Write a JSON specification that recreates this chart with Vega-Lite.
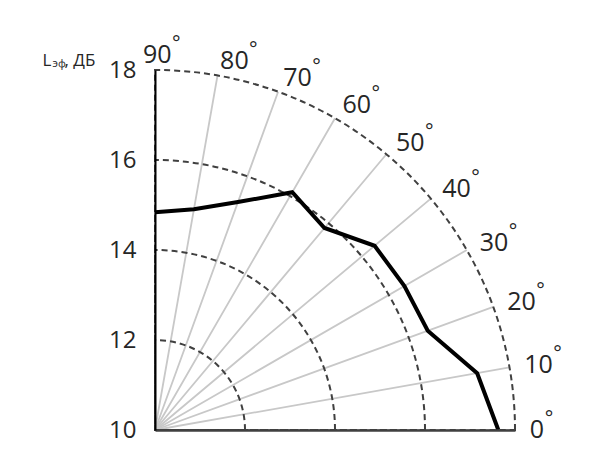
{
  "$schema": "https://vega.github.io/schema/vega-lite/v6.json",
  "width": 360,
  "height": 360,
  "autosize": "none",
  "padding": {"left": 155, "top": 70, "right": 98, "bottom": 45},
  "background": "white",
  "config": {"view": {"stroke": null}, "font": "Open Sans"},
  "datasets": {
    "levels": [
      {"angle": 0, "L": 17.63},
      {"angle": 10, "L": 17.27},
      {"angle": 20, "L": 16.45},
      {"angle": 30, "L": 16.4},
      {"angle": 40, "L": 16.37},
      {"angle": 50, "L": 15.86},
      {"angle": 60, "L": 16.1},
      {"angle": 70, "L": 15.39},
      {"angle": 80, "L": 14.98},
      {"angle": 90, "L": 14.84}
    ],
    "rings": [{"r": 12}, {"r": 14}, {"r": 16}, {"r": 18}],
    "spokes": [
      {"angle": 0, "label": "0"},
      {"angle": 10, "label": "10"},
      {"angle": 20, "label": "20"},
      {"angle": 30, "label": "30"},
      {"angle": 40, "label": "40"},
      {"angle": 50, "label": "50"},
      {"angle": 60, "label": "60"},
      {"angle": 70, "label": "70"},
      {"angle": 80, "label": "80"},
      {"angle": 90, "label": "90"}
    ]
  },
  "resolve": {"axis": {"y": "independent"}},
  "layer": [
    {
      "data": {"name": "spokes"},
      "mark": {"type": "arc", "filled": false, "stroke": "#c8c8c8", "strokeWidth": 1.8},
      "encoding": {
        "x": {"datum": 10, "type": "quantitative", "scale": {"domain": [10, 18], "nice": false, "zero": false}},
        "y": {"datum": 10, "type": "quantitative", "scale": {"domain": [10, 18], "nice": false, "zero": false}, "axis": null},
        "theta": {"field": "angle", "type": "quantitative", "stack": null, "scale": {"domain": [0, 90], "range": [1.5707963, 0]}},
        "theta2": {"field": "angle"},
        "radius": {"datum": 18, "type": "quantitative", "scale": {"type": "linear", "domain": [10, 18], "range": [0, 360], "zero": false, "nice": false}},
        "radius2": {"datum": 10}
      }
    },
    {
      "data": {"name": "rings"},
      "mark": {"type": "arc", "filled": false, "stroke": "#404040", "strokeWidth": 2, "strokeDash": [6, 4]},
      "encoding": {
        "x": {"datum": 10, "type": "quantitative", "scale": {"domain": [10, 18], "nice": false, "zero": false}},
        "y": {"datum": 10, "type": "quantitative", "scale": {"domain": [10, 18], "nice": false, "zero": false}, "axis": null},
        "theta": {"datum": 0, "type": "quantitative", "stack": null, "scale": {"domain": [0, 90], "range": [1.5707963, 0]}},
        "theta2": {"datum": 90},
        "radius": {"field": "r", "type": "quantitative", "scale": {"type": "linear", "domain": [10, 18], "range": [0, 360], "zero": false, "nice": false}},
        "radius2": {"datum": 10}
      }
    },
    {
      "data": {"name": "levels"},
      "transform": [
        {"calculate": "10 + (datum.L - 10) * cos(datum.angle * PI / 180)", "as": "px"},
        {"calculate": "10 + (datum.L - 10) * sin(datum.angle * PI / 180)", "as": "py"}
      ],
      "mark": {"type": "line", "color": "black", "strokeWidth": 4, "strokeJoin": "miter"},
      "encoding": {
        "order": {"field": "angle", "type": "quantitative"},
        "x": {
          "field": "px", "type": "quantitative",
          "scale": {"domain": [10, 18], "nice": false, "zero": false},
          "axis": {
            "orient": "bottom", "labels": false, "ticks": false, "grid": false,
            "domain": true, "domainColor": "#404040", "domainWidth": 2.5,
            "title": ", ДБ", "titleFont": "Open Sans", "titleFontSize": 17, "titleFontWeight": "normal",
            "titleColor": "#262626", "titleAngle": 0, "titleAlign": "left", "titleBaseline": "alphabetic",
            "titleX": -91, "titleY": -365, "zindex": 1
          }
        },
        "y": {
          "field": "py", "type": "quantitative",
          "scale": {"domain": [10, 18], "nice": false, "zero": false},
          "axis": {
            "orient": "left", "values": [10, 12, 14, 16, 18], "labelFontSize": 24, "labelColor": "#262626",
            "labelFont": "Open Sans", "labelPadding": 19, "ticks": false, "grid": false,
            "domainColor": "#000000", "domainWidth": 2,
            "title": "L", "titleFont": "Open Sans", "titleFontSize": 17, "titleFontWeight": "normal",
            "titleColor": "#262626", "titleAngle": 0, "titleAlign": "left", "titleBaseline": "alphabetic",
            "titleX": -113, "titleY": -5, "zindex": 1
          }
        }
      }
    },
    {
      "data": {"name": "spokes"},
      "transform": [{"filter": "datum.angle < 90"}],
      "mark": {"type": "text", "align": "left", "baseline": "middle", "fontSize": 25, "color": "#262626", "font": "Open Sans"},
      "encoding": {
        "x": {"datum": 10, "type": "quantitative", "scale": {"domain": [10, 18], "nice": false, "zero": false}},
        "y": {
          "datum": 10, "type": "quantitative", "scale": {"domain": [10, 18], "nice": false, "zero": false},
          "axis": {
            "labels": false, "ticks": false, "grid": false, "domain": false,
            "title": "эф", "titleFont": "Open Sans", "titleFontSize": 11, "titleFontWeight": "normal",
            "titleColor": "#262626", "titleAngle": 0, "titleAlign": "left", "titleBaseline": "alphabetic",
            "titleX": -463, "titleY": -4
          }
        },
        "theta": {"field": "angle", "type": "quantitative", "stack": null, "scale": {"domain": [0, 90], "range": [1.5707963, 0]}},
        "radius": {"datum": 18.33, "type": "quantitative", "scale": {"type": "linear", "domain": [10, 18], "range": [0, 360], "zero": false, "nice": false}},
        "text": {"field": "label"}
      }
    },
    {
      "data": {"name": "spokes"},
      "transform": [{"filter": "datum.angle == 90"}],
      "mark": {"type": "text", "align": "left", "baseline": "middle", "fontSize": 25, "color": "#262626", "font": "Open Sans", "dx": -12},
      "encoding": {
        "x": {"datum": 10, "type": "quantitative", "scale": {"domain": [10, 18], "nice": false, "zero": false}},
        "y": {"datum": 10, "type": "quantitative", "scale": {"domain": [10, 18], "nice": false, "zero": false}, "axis": null},
        "theta": {"field": "angle", "type": "quantitative", "stack": null, "scale": {"domain": [0, 90], "range": [1.5707963, 0]}},
        "radius": {"datum": 18.33, "type": "quantitative", "scale": {"type": "linear", "domain": [10, 18], "range": [0, 360], "zero": false, "nice": false}},
        "text": {"field": "label"}
      }
    },
    {
      "data": {"name": "spokes"},
      "transform": [{"filter": "datum.angle == 0"}],
      "mark": {"type": "text", "align": "left", "baseline": "alphabetic", "fontSize": 20, "color": "#262626", "font": "Open Sans", "dx": 15, "dy": -5},
      "encoding": {
        "x": {"datum": 10, "type": "quantitative", "scale": {"domain": [10, 18], "nice": false, "zero": false}},
        "y": {"datum": 10, "type": "quantitative", "scale": {"domain": [10, 18], "nice": false, "zero": false}, "axis": null},
        "theta": {"field": "angle", "type": "quantitative", "stack": null, "scale": {"domain": [0, 90], "range": [1.5707963, 0]}},
        "radius": {"datum": 18.33, "type": "quantitative", "scale": {"type": "linear", "domain": [10, 18], "range": [0, 360], "zero": false, "nice": false}},
        "text": {"value": "°"}
      }
    },
    {
      "data": {"name": "spokes"},
      "transform": [{"filter": "datum.angle > 0 && datum.angle < 90"}],
      "mark": {"type": "text", "align": "left", "baseline": "alphabetic", "fontSize": 20, "color": "#262626", "font": "Open Sans", "dx": 29, "dy": -5},
      "encoding": {
        "x": {"datum": 10, "type": "quantitative", "scale": {"domain": [10, 18], "nice": false, "zero": false}},
        "y": {"datum": 10, "type": "quantitative", "scale": {"domain": [10, 18], "nice": false, "zero": false}, "axis": null},
        "theta": {"field": "angle", "type": "quantitative", "stack": null, "scale": {"domain": [0, 90], "range": [1.5707963, 0]}},
        "radius": {"datum": 18.33, "type": "quantitative", "scale": {"type": "linear", "domain": [10, 18], "range": [0, 360], "zero": false, "nice": false}},
        "text": {"value": "°"}
      }
    },
    {
      "data": {"name": "spokes"},
      "transform": [{"filter": "datum.angle == 90"}],
      "mark": {"type": "text", "align": "left", "baseline": "alphabetic", "fontSize": 20, "color": "#262626", "font": "Open Sans", "dx": 17, "dy": -5},
      "encoding": {
        "x": {"datum": 10, "type": "quantitative", "scale": {"domain": [10, 18], "nice": false, "zero": false}},
        "y": {"datum": 10, "type": "quantitative", "scale": {"domain": [10, 18], "nice": false, "zero": false}, "axis": null},
        "theta": {"field": "angle", "type": "quantitative", "stack": null, "scale": {"domain": [0, 90], "range": [1.5707963, 0]}},
        "radius": {"datum": 18.33, "type": "quantitative", "scale": {"type": "linear", "domain": [10, 18], "range": [0, 360], "zero": false, "nice": false}},
        "text": {"value": "°"}
      }
    }
  ]
}
